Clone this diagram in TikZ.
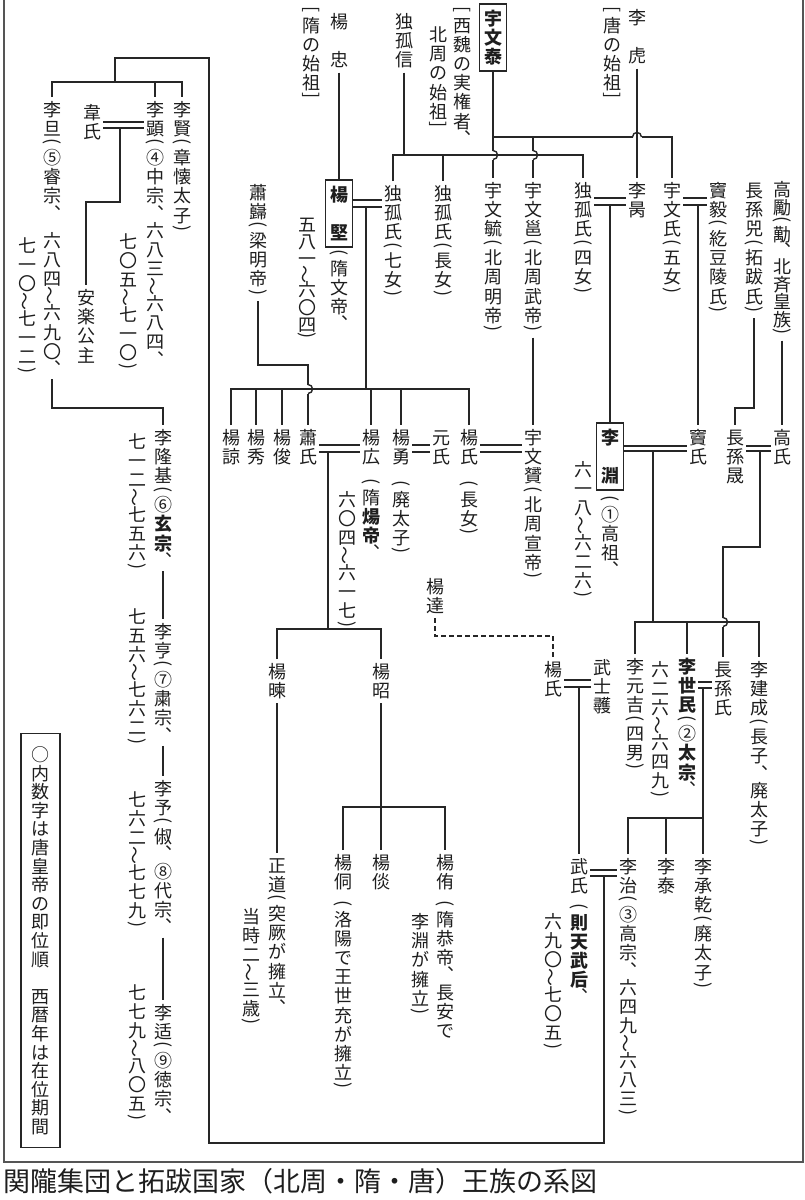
\documentclass[tikz,border=0pt]{standalone}
\usepackage{fontspec}
\usepackage{graphicx}
\newfontfamily\jp{Noto Sans CJK JP}
\definecolor{ink}{HTML}{1E1E1E}
\definecolor{lc}{HTML}{262626}
\definecolor{fc}{HTML}{555555}
\ExplSyntaxOn
\bool_new:N \l__vt_bold_bool
\dim_new:N \l__vt_p_dim
\dim_new:N \l__vt_w_dim
\dim_set:Nn \l__vt_w_dim { 18pt }
\cs_new_protected:Npn \__vt_cell:nn #1#2
  {
    \hbox_to_wd:nn { \l__vt_w_dim }
      {
        \hss
        \vbox_to_ht:nn { #1 \l__vt_p_dim } { \vss \hbox:n { #2 } \vss }
        \hss
      }
  }
\cs_new_protected:Npn \__vt_strut:
  { \vrule height .88em depth .12em width 0pt \relax }
\cs_new_protected:Npn \__vt_char:n #1
  {
    \str_case:nnF { #1 }
      {
        { * } { \bool_if:NTF \l__vt_bold_bool { \bool_set_false:N \l__vt_bold_bool } { \bool_set_true:N \l__vt_bold_bool } }
        { ( } { \__vt_cell:nn { 0.5 } { \rotatebox[origin=c]{-90}{(} } }
        { ) } { \__vt_cell:nn { 0.5 } { \rotatebox[origin=c]{-90}{)} } }
        { [ } { \__vt_cell:nn { 0.5 } { \rotatebox[origin=c]{-90}{[} } }
        { ] } { \__vt_cell:nn { 0.5 } { \rotatebox[origin=c]{-90}{]} } }
        { 、 } { \__vt_cell:nn { 0.8 } { \__vt_strut: ︑ } }
        { ～ } { \__vt_cell:nn { 0.8 } { \rotatebox[origin=c]{90}{～} } }
        { | } { \__vt_cell:nn { 0.5 } { } }
      }
      { \__vt_cell:nn { 1 } { \bool_if:NT \l__vt_bold_bool { \bfseries } \__vt_strut: #1 } }
  }
\NewDocumentCommand \vt { O{19.2pt} m }
  {
    \vbox:n
      {
        \offinterlineskip
        \dim_set:Nn \l__vt_p_dim { #1 }
        \bool_set_false:N \l__vt_bold_bool
        \tl_map_inline:nn { #2 } { \__vt_char:n { ##1 } }
      }
  }
\ExplSyntaxOff
\tikzset{
  vtn/.style={anchor=north, inner sep=0pt, outer xsep=2pt, outer ysep=3pt, yshift=3pt, text=ink, font=\jp\fontsize{18}{18}\selectfont},
  vbx/.style={anchor=north, draw=lc, line width=1.2pt, inner xsep=4.5pt, inner ysep=4.7pt, outer sep=0pt, text=ink, font=\jp\fontsize{18}{18}\selectfont},
  ln/.style={draw=lc, line width=1.4pt},
  framel/.style={draw=fc, line width=1.3pt}
}
\begin{document}
\begin{tikzpicture}[x=1pt,y=-1pt]
\fill[white] (0,0) rectangle (804,1200);
\useasboundingbox (0,0) rectangle (804,1200);
% ---------- level coordinates
\foreach \v in {58,82,122,128,137,155,198,200,202,205,207,365,389,408,445,446,451,452,547,622,629,636,680,682,687,688,807,818,870,876,1143}{\coordinate (h\v) at (0,\v);}
\coordinate (hv150) at (0,150.5);
\coordinate (hv159) at (0,159.5);
\coordinate (hv384) at (0,384.5);
\coordinate (hv393) at (0,393.5);
\coordinate (hv617) at (0,617.5);
\coordinate (hv626) at (0,626.5);
% ---------- top generation
\node[vtn] (lihu) at (637,8) {\vt{李　虎}};
\node[vtn] (tangsz) at (612,6) {\vt{[唐の始祖]}};
\node[vbx] (yuwentai) at (493,4) {\vt{*宇文泰*}};
\node[vtn] (xiwei1) at (462,6) {\vt{[西魏の実権者、}};
\node[vtn] (xiwei2) at (438,25) {\vt{北周の始祖]}};
\node[vtn] (duguxin) at (404,12) {\vt{独孤信}};
\node[vtn] (yangzhong) at (339,12) {\vt{楊　忠}};
\node[vtn] (suisz) at (311,6) {\vt{[隋の始祖]}};
% ---------- generation 1
\node[vtn] (xiaokui) at (258,183) {\vt{蕭巋(梁明帝)}};
\node[vbx] (yangjian) at (339,180) {\vt{*楊　堅*}};
\node[vtn] (suiwendi) at (339,249) {\vt{(隋文帝、}};
\node[vtn] (yjyears) at (307,216) {\vt[17.2pt]{五八一～六〇四)}};
\node[vtn] (dugu7) at (393,184) {\vt{独孤氏(七女)}};
\node[vtn] (dugu1) at (443,184) {\vt{独孤氏(長女)}};
\node[vtn] (yuwenyu) at (493,181) {\vt{宇文毓(北周明帝)}};
\node[vtn] (yuwenyong) at (533,181) {\vt{宇文邕(北周武帝)}};
\node[vtn] (dugu4) at (583,181) {\vt{独孤氏(四女)}};
\node[vtn] (libing) at (637,181) {\vt{李昺}};
\node[vtn] (yuwen5) at (672,181) {\vt{宇文氏(五女)}};
\node[vtn] (douyi) at (718,181) {\vt{竇毅(紇豆陵氏)}};
\node[vtn] (zhangsunsi) at (754,181) {\vt{長孫兕(拓跋氏)}};
\node[vtn] (gaoli) at (782,181) {\vt[17.8pt]{高勵(勱、北斉皇族)}};
% ---------- generation 2
\node[vtn] (yangliang) at (231,428) {\vt{楊諒}};
\node[vtn] (yangxiu) at (256,428) {\vt{楊秀}};
\node[vtn] (yangjun) at (282,428) {\vt{楊俊}};
\node[vtn] (xiaoshi) at (308,428) {\vt{蕭氏}};
\node[vtn] (yangguang) at (371,428) {\vt{楊広}};
\node[vtn] (yangdi) at (371,478) {\vt{(隋*煬帝*、}};
\node[vtn] (ygyears) at (347,490) {\vt{六〇四～六一七)}};
\node[vtn] (yangyong) at (401,428) {\vt{楊勇}};
\node[vtn] (feitz1) at (401,480) {\vt{(廃太子)}};
\node[vtn] (yuanshi) at (441,428) {\vt{元氏}};
\node[vtn] (yangshi1) at (469,428) {\vt{楊氏}};
\node[vtn] (changnv) at (469,480) {\vt{(長女)}};
\node[vtn] (yuwenyun) at (533,428) {\vt{宇文贇(北周宣帝)}};
\node[vbx] (liyuan) at (610,423) {\vt{*李　淵*}};
\node[vtn] (gaozu) at (610,495) {\vt{(①高祖、}};
\node[vtn] (lyyears) at (583,460) {\vt{六一八～六二六)}};
\node[vtn] (doushi) at (698,428) {\vt{竇氏}};
\node[vtn] (zhangsunsheng) at (735,428) {\vt{長孫晟}};
\node[vtn] (gaoshi) at (782,428) {\vt{高氏}};
% ---------- generation 3
\node[vtn] (yangda) at (435,577) {\vt{楊達}};
\node[vtn] (yangjian2) at (277,662) {\vt{楊暕}};
\node[vtn] (yangzhao) at (381,662) {\vt{楊昭}};
\node[vtn] (yangshi2) at (553,660) {\vt{楊氏}};
\node[vtn] (wushiyue) at (602,658) {\vt{武士彠}};
\node[vtn] (liyuanji) at (635,657) {\vt{李元吉(四男)}};
\node[vtn] (lishimin) at (687,657) {\vt{*李世民*(②*太宗*、}};
\node[vtn] (lsmyears) at (660,660) {\vt{六二六～六四九)}};
\node[vtn] (zhangsunshi) at (723,660) {\vt{長孫氏}};
\node[vtn] (lijiancheng) at (759,660) {\vt{李建成(長子、廃太子)}};
% ---------- generation 4
\node[vtn] (zhengdao) at (277,856) {\vt{正道(突厥が擁立、}};
\node[vtn] (zhengdao2) at (251,907) {\vt{当時二～三歳)}};
\node[vtn] (yangtong) at (343,853) {\vt{楊侗}};
\node[vtn] (tongnote) at (343,900) {\vt{(洛陽で王世充が擁立)}};
\node[vtn] (yangtan) at (381,853) {\vt{楊倓}};
\node[vtn] (yangyou) at (445,853) {\vt{楊侑}};
\node[vtn] (younote1) at (445,900) {\vt{(隋恭帝、長安で}};
\node[vtn] (younote2) at (420,912) {\vt{李淵が擁立)}};
\node[vtn] (wushi) at (579,857) {\vt{武氏}};
\node[vtn] (zetian) at (579,903) {\vt{(*則天武后*、}};
\node[vtn] (wsyears) at (553,912) {\vt{六九〇～七〇五)}};
\node[vtn] (lizhi) at (628,857) {\vt{李治(③高宗、六四九～六八三)}};
\node[vtn] (litai) at (666,857) {\vt{李泰}};
\node[vtn] (lichengqian) at (703,857) {\vt{李承乾(廃太子)}};
% ---------- left: Tang line
\node[vtn] (lixian) at (182,100) {\vt{李賢(章懐太子)}};
\node[vtn] (lixian2) at (155,100) {\vt{李顕(④中宗、六八三～六八四、}};
\node[vtn] (lx2years) at (128,232) {\vt{七〇五～七一〇)}};
\node[vtn] (weishi) at (92,103) {\vt{韋氏}};
\node[vtn] (anle) at (86,288) {\vt{安楽公主}};
\node[vtn] (lidan) at (52,100) {\vt{李旦(⑤睿宗、|六八四～六九〇、}};
\node[vtn] (ldyears) at (27,236) {\vt{七一〇～七一二)}};
\node[vtn] (lilongji) at (163,428) {\vt{李隆基(⑥*玄宗*、}};
\node[vtn] (llyears) at (137,432) {\vt{七一二～七五六)}};
\node[vtn] (liheng) at (163,622) {\vt{李亨(⑦粛宗、}};
\node[vtn] (lhyears) at (137,607) {\vt{七五六～七六二)}};
\node[vtn] (liyu) at (163,779) {\vt{李予(俶、⑧代宗、}};
\node[vtn] (lyuyears) at (137,790) {\vt{七六二～七七九)}};
\node[vtn] (likuo) at (163,1003) {\vt{李适(⑨徳宗、}};
\node[vtn] (lkyears) at (137,983) {\vt{七七九～八〇五)}};
% ---------- legend, caption, frame
\node[draw=lc, line width=1.1pt, minimum width=39pt, minimum height=414pt, inner sep=0pt, anchor=north, text=ink, font=\jp\fontsize{18}{18}\selectfont] (legend) at (40.5,733) {\vt[18.6pt]{○内数字は唐皇帝の即位順　西暦年は在位期間}};
\node[anchor=west, inner sep=0pt, text=ink, font=\jp\fontsize{27}{27}\selectfont] (caption) at (3,1181) {関隴集団と拓跋国家（北周・隋・唐）王族の系図};
\draw[framel] (4,0) -- (4,1162) -- (803,1162) -- (803,0);
% ---------- connectors: top
\coordinate (hopA) at (632.5,137);
\coordinate (hopB) at (641.5,137);
\draw[ln] (lihu.south) -- (libing.north);
\draw[ln] (yuwentai.south) -- (yuwentai.south |- hv150);
\draw[ln] (yuwentai.south |- hv150) .. controls +(6,0) and +(6,0) .. (yuwentai.south |- hv159);
\draw[ln] (yuwentai.south |- hv159) -- (yuwenyu.north);
\draw[ln] (yuwentai.south |- h137) -- (hopA);
\draw[ln] (hopA) .. controls +(0,-6) and +(0,-6) .. (hopB);
\draw[ln] (hopB) -- (yuwen5.north |- h137) -- (yuwen5.north);
\draw[ln] (yuwenyong.north |- h137) -- (yuwenyong.north |- hv150);
\draw[ln] (yuwenyong.north |- hv150) .. controls +(6,0) and +(6,0) .. (yuwenyong.north |- hv159);
\draw[ln] (yuwenyong.north |- hv159) -- (yuwenyong.north);
\draw[ln] (duguxin.south) -- (duguxin.south |- h155);
\draw[ln] (dugu7.north) -- (dugu7.north |- h155) -- (dugu4.north |- h155) -- (dugu4.north);
\draw[ln] (dugu1.north |- h155) -- (dugu1.north);
\draw[ln] (yangzhong.south) -- (yangjian.north);
% Yang Jian = Dugu
\draw[ln] (yangjian.east |- h200) -- (dugu7.west |- h200);
\draw[ln] (yangjian.east |- h207) -- (dugu7.west |- h207);
\coordinate (cYJ) at (366,207);
\draw[ln] (cYJ) -- (cYJ |- h389);
\draw[ln] (yangliang.north) -- (yangliang.north |- h389) -- (yangshi1.north |- h389) -- (yangshi1.north);
\foreach \n in {yangxiu,yangjun,yangguang,yangyong}{\draw[ln] (\n.north |- h389) -- (\n.north);}
\draw[ln] (xiaokui.south) -- (xiaokui.south |- h365) -- (xiaoshi.north |- h365) -- (xiaoshi.north |- hv384);
\draw[ln] (xiaoshi.north |- hv384) .. controls +(6,0) and +(6,0) .. (xiaoshi.north |- hv393);
\draw[ln] (xiaoshi.north |- hv393) -- (xiaoshi.north);
% Xiao = Yang Guang
\draw[ln] (xiaoshi.east |- h445) -- (yangguang.west |- h445);
\draw[ln] (xiaoshi.east |- h452) -- (yangguang.west |- h452);
\coordinate (cYG) at (328,452);
\draw[ln] (cYG) -- (cYG |- h629);
\draw[ln] (yangjian2.north) -- (yangjian2.north |- h629) -- (yangzhao.north |- h629) -- (yangzhao.north);
\draw[ln] (yangjian2.south) -- (zhengdao.north);
\draw[ln] (yangzhao.south) -- (yangtan.north);
\draw[ln] (yangtong.north) -- (yangtong.north |- h807) -- (yangyou.north |- h807) -- (yangyou.north);
% Yang Yong = Yuan ; Yang = Yuwen Yun
\draw[ln] (yangyong.east |- h445) -- (yuanshi.west |- h445);
\draw[ln] (yangyong.east |- h452) -- (yuanshi.west |- h452);
\draw[ln] (yangshi1.east |- h445) -- (yuwenyun.west |- h445);
\draw[ln] (yangshi1.east |- h452) -- (yuwenyun.west |- h452);
\draw[ln] (yuwenyong.south) -- (yuwenyun.north);
% Dugu(4) = Li Bing
\draw[ln] (dugu4.east |- h198) -- (libing.west |- h198);
\draw[ln] (dugu4.east |- h205) -- (libing.west |- h205);
\coordinate (cLB) at (610,205);
\draw[ln] (cLB) -- (cLB |- liyuan.north);
% Yuwen(5) = Dou Yi
\draw[ln] (yuwen5.east |- h198) -- (douyi.west |- h198);
\draw[ln] (yuwen5.east |- h205) -- (douyi.west |- h205);
\coordinate (cDY) at (698,205);
\draw[ln] (cDY) -- (cDY |- doushi.north);
% Zhangsun / Gao
\draw[ln] (zhangsunsi.south) -- (zhangsunsi.south |- h408) -- (zhangsunsheng.north |- h408) -- (zhangsunsheng.north);
\draw[ln] (gaoli.south) -- (gaoshi.north);
% Li Yuan = Dou
\draw[ln] (liyuan.east |- h446) -- (doushi.west |- h446);
\draw[ln] (liyuan.east |- h451) -- (doushi.west |- h451);
\coordinate (cLY) at (653,451);
\draw[ln] (cLY) -- (cLY |- h622);
\draw[ln] (liyuanji.north) -- (liyuanji.north |- h622) -- (lijiancheng.north |- h622) -- (lijiancheng.north);
\draw[ln] (lishimin.north |- h622) -- (lishimin.north);
% Zhangsun Sheng = Gao
\draw[ln] (zhangsunsheng.east |- h446) -- (gaoshi.west |- h446);
\draw[ln] (zhangsunsheng.east |- h451) -- (gaoshi.west |- h451);
\coordinate (cZS) at (760,451);
\draw[ln] (cZS) -- (cZS |- h547) -- (zhangsunshi.north |- h547) -- (zhangsunshi.north |- hv617);
\draw[ln] (zhangsunshi.north |- hv617) .. controls +(6,0) and +(6,0) .. (zhangsunshi.north |- hv626);
\draw[ln] (zhangsunshi.north |- hv626) -- (zhangsunshi.north);
% Yang Da (dashed)
\draw[ln, line width=1.2pt, dash pattern=on 5pt off 3pt] (yangda.south) -- (yangda.south |- h636) -- (yangshi2.north |- h636) -- (yangshi2.north);
% Yang = Wu Shiyue
\draw[ln] (yangshi2.east |- h680) -- (wushiyue.west |- h680);
\draw[ln] (yangshi2.east |- h687) -- (wushiyue.west |- h687);
\coordinate (cWS) at (579,687);
\draw[ln] (cWS) -- (cWS |- wushi.north);
% Li Shimin = Zhangsun
\draw[ln] (lishimin.east |- h682) -- (zhangsunshi.west |- h682);
\draw[ln] (lishimin.east |- h688) -- (zhangsunshi.west |- h688);
\coordinate (cLS) at (703,688);
\draw[ln] (cLS) -- (cLS |- h818);
\draw[ln] (lizhi.north) -- (lizhi.north |- h818) -- (lichengqian.north |- h818) -- (lichengqian.north);
\draw[ln] (litai.north |- h818) -- (litai.north);
% Wu = Li Zhi
\draw[ln] (wushi.east |- h870) -- (lizhi.west |- h870);
\draw[ln] (wushi.east |- h876) -- (lizhi.west |- h876);
\coordinate (cWZ) at (604,876);
\coordinate (lp1) at (209,1143);
\coordinate (lp2) at (209,58);
\coordinate (lp3) at (115,58);
\draw[ln] (cWZ) -- (cWZ |- h1143) -- (lp1) -- (lp2) -- (lp3) -- (lp3 |- h82);
\draw[ln] (lidan.north) -- (lidan.north |- h82) -- (lixian.north |- h82) -- (lixian.north);
\draw[ln] (lixian2.north |- h82) -- (lixian2.north);
% Wei = Li Xian
\draw[ln] (weishi.east |- h122) -- (lixian2.west |- h122);
\draw[ln] (weishi.east |- h128) -- (lixian2.west |- h128);
\coordinate (cWX) at (120,128);
\draw[ln] (cWX) -- (cWX |- h202) -- (anle.north |- h202) -- (anle.north);
% Li Dan -> Li Longji -> ...
\draw[ln] (lidan.south) -- (lidan.south |- h408) -- (lilongji.north |- h408) -- (lilongji.north);
\draw[ln] (lilongji.south) -- (liheng.north);
\draw[ln] (liheng.south) -- (liyu.north);
\draw[ln] (liyu.south) -- (likuo.north);
\end{tikzpicture}
\end{document}
